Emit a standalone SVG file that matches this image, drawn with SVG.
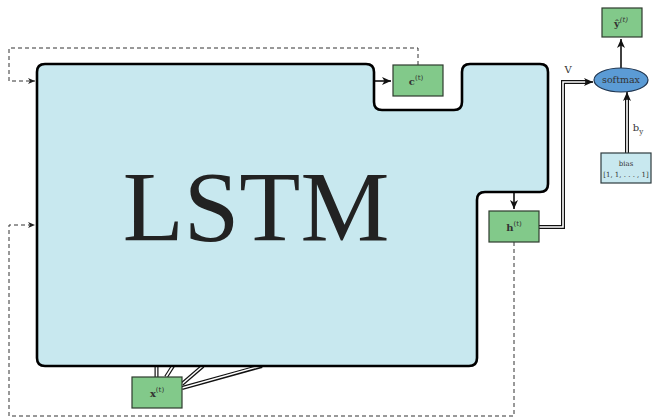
<svg xmlns="http://www.w3.org/2000/svg" width="656" height="419" viewBox="0 0 656 419">
<style>
.box{fill:#82c98a;stroke:#2e3b2e;stroke-width:1.2}
.lbl{font-family:"DejaVu Serif","Liberation Serif",serif;font-size:10px;fill:#333;text-anchor:middle}
.dash{fill:none;stroke:#333;stroke-width:1;stroke-dasharray:4,3}
.dbo{fill:none;stroke:#111;stroke-width:4}
.dbi{fill:none;stroke:#fff;stroke-width:1.6}
.sol{fill:none;stroke:#111;stroke-width:1.6}
</style>
<defs>
<marker id="ah" markerWidth="10" markerHeight="10" refX="9" refY="5" orient="auto" markerUnits="userSpaceOnUse">
<path d="M0,1 L9,5 L0,9 L2.5,5 Z" fill="#111"/>
</marker>
<marker id="ahs" markerWidth="8" markerHeight="8" refX="7" refY="4" orient="auto" markerUnits="userSpaceOnUse">
<path d="M0,1 L7,4 L0,7 L2,4 Z" fill="#222"/>
</marker>
</defs>
<g id="connectors">
<path class="dash" d="M418,65 V48 H9 V81 H35" marker-end="url(#ahs)"/>
<path class="dash" d="M514,242 V416 H9 V225 H35" marker-end="url(#ahs)"/>
<path class="sol" d="M374,81 H391" marker-end="url(#ah)"/>
<path class="sol" d="M514,192 V209" marker-end="url(#ah)"/>
<path class="sol" d="M621,68 V39" marker-end="url(#ah)"/>
<path class="dbo" d="M539,227 H563 V82 H586"/>
<path class="dbi" d="M539,227 H563 V82 H587"/>
<path class="sol" d="M585,82 H593" marker-end="url(#ah)"/>
<path class="dbo" d="M627,153 V99"/>
<path class="dbi" d="M627,153 V98"/>
<path class="sol" d="M627,100 V92" marker-end="url(#ah)"/>
<g>
<path class="dbo" d="M156.5,377 V366"/>
<path class="dbi" d="M156.5,377 V365"/>
<path class="dbo" d="M166,377 L173,366"/>
<path class="dbi" d="M166,377 L173.5,365"/>
<path class="dbo" d="M182,384 L203,366"/>
<path class="dbi" d="M182,384 L204,365"/>
<path class="dbo" d="M182,388 L262,366"/>
<path class="dbi" d="M182,388 L264,365"/>
</g>
<text class="lbl" x="568" y="73">V</text>
<text class="lbl" x="638" y="131">b<tspan dy="3" font-size="7">y</tspan></text>
</g>
<g id="lstm">
<path d="M45,64 H366 Q374,64 374,72 V102 Q374,110 382,110 H454 Q462,110 462,102 V72 Q462,64 470,64 H540 Q548,64 548,72 V184 Q548,192 540,192 H485 Q477,192 477,200 V358 Q477,366 469,366 H45 Q37,366 37,358 V72 Q37,64 45,64 Z" fill="#c8e8ef" stroke="#000" stroke-width="2.6"/>
<text x="256" y="240" font-family="'Liberation Serif',serif" font-size="100" fill="#222" text-anchor="middle">LSTM</text>
</g>
<g id="c">
<rect class="box" x="393" y="65" width="50" height="31"/>
<text class="lbl" x="416" y="85" font-weight="bold">c<tspan dy="-5" font-size="7" font-weight="normal">(t)</tspan></text>
</g>
<g id="h">
<rect class="box" x="489" y="211" width="50" height="31"/>
<text class="lbl" x="514" y="231" font-weight="bold">h<tspan dy="-5" font-size="7" font-weight="normal">(t)</tspan></text>
</g>
<g id="x">
<rect class="box" x="132" y="377" width="50" height="31"/>
<text class="lbl" x="157" y="397" font-weight="bold">x<tspan dy="-5" font-size="7" font-weight="normal">(t)</tspan></text>
</g>
<g id="yhat">
<rect class="box" x="602" y="8" width="40" height="29"/>
<text class="lbl" x="621" y="27" font-weight="bold">ŷ<tspan dy="-5" font-size="7" font-weight="normal" font-style="italic">(t)</tspan></text>
</g>
<g id="softmax">
<ellipse cx="621" cy="80" rx="27" ry="12" fill="#5b9bd5" stroke="#1f3550" stroke-width="1.2"/>
<text class="lbl" x="621" y="83" style="font-size:9.5px">softmax</text>
</g>
<g id="bias">
<rect x="601" y="153" width="50" height="30" fill="#c8e8ef" stroke="#2e3b3e" stroke-width="1.2"/>
<text class="lbl" x="626" y="166" style="font-size:7px">bias</text>
<text class="lbl" x="626" y="177" style="font-size:7px">[1, 1, . . . , 1]</text>
</g>
</svg>
